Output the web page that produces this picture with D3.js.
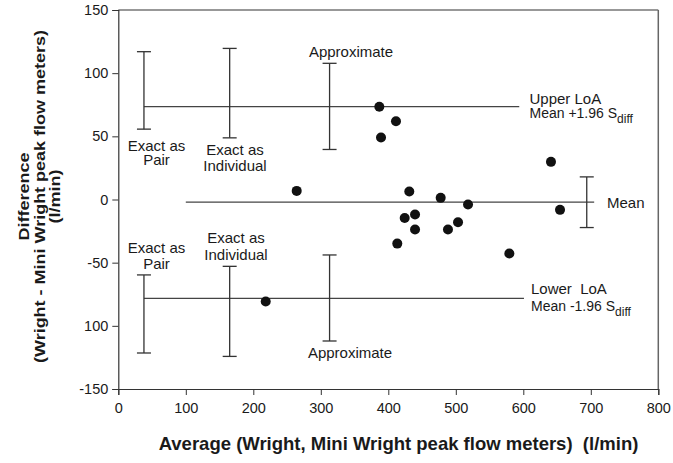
<!DOCTYPE html>
<html><head><meta charset="utf-8">
<script src="https://cdn.jsdelivr.net/npm/d3@7"></script>
<style>
body{margin:0;background:#fff;}
text{font-family:"Liberation Sans",Arial,sans-serif;fill:#1a1a1a;}
</style></head>
<body><svg id="c" width="673" height="463"></svg>
<script>
// Data
const avgVals  = [264.3, 218.4, 386.7, 411.4, 389.2, 431.1, 477.6, 518.1, 439.6, 424.3, 439.6, 488.4, 503.3, 413.3, 579.3, 641.0, 654.4];
const diffVals = [6.8, -80.8, 73.4, 62.0, 49.1, 6.3, 1.3, -4.0, -11.9, -14.6, -23.8, -23.8, -18.0, -34.9, -42.8, 29.8, -8.2];
const meanDiff = -2.1, upperLoA = 73.5, lowerLoA = -78.2;
const meanLineX = [100, 705], upperLineX = [38, 594], lowerLineX = [38, 601];
const meanCiX = 694, meanCi = [-22.2, 17.9];
const ciX = [38, 165, 313];
const upperCiLow = [55.7, 48.8, 39.6], upperCiHigh = [117, 119.6, 107.8];
const lowerCiLow = [-121.5, -124.2, -112], lowerCiHigh = [-59.7, -52.9, -43.9];
const xTicks = [0,100,200,300,400,500,600,700,800];
const yTicks = [-150,-100,-50,0,50,100,150];
const yTickLabels = ["-150","100","-50","0","50","100","150"];

const svg = d3.select("#c");
const x = d3.scaleLinear().domain([0,800]).range([118.3,658.3]);
const y = d3.scaleLinear().domain([-150,150]).range([389,10]);
const axisCol = "#333", lineCol = "#444";

// frame top/right
svg.append("line").attr("x1",x(0)).attr("x2",x(800)).attr("y1",y(150)).attr("y2",y(150)).attr("stroke",axisCol).attr("stroke-width",1.2);
svg.append("line").attr("x1",x(800)).attr("x2",x(800)).attr("y1",y(150)).attr("y2",y(-150)).attr("stroke","#666").attr("stroke-width",1.5);

// axes
const xa = svg.append("g").attr("transform",`translate(0,${y(-150)})`)
  .call(d3.axisBottom(x).tickValues(xTicks).tickSize(6).tickPadding(8).tickFormat(d3.format("d")));
const ya = svg.append("g").attr("transform",`translate(${x(0)},0)`)
  .call(d3.axisLeft(y).tickValues(yTicks).tickSize(6).tickPadding(4).tickFormat((d,i)=>yTickLabels[i]));
[xa,ya].forEach(g=>{
  g.select(".domain").attr("stroke",axisCol).attr("stroke-width",1.2);
  g.selectAll(".tick line").attr("stroke",axisCol);
  g.selectAll("text").attr("font-size",14.5).attr("font-family","Liberation Sans, Arial, sans-serif").attr("fill","#222");
});

// horizontal lines
function hline(x0,x1,yv){
  svg.append("line").attr("x1",x(x0)).attr("x2",x(x1)).attr("y1",y(yv)).attr("y2",y(yv)).attr("stroke",lineCol).attr("stroke-width",1.3);
}
hline(upperLineX[0],upperLineX[1],upperLoA);
hline(lowerLineX[0],lowerLineX[1],lowerLoA);
hline(meanLineX[0],meanLineX[1],meanDiff);

function ebar(xv,lo,hi){
  const g = svg.append("g").attr("stroke","#333").attr("stroke-width",1.3);
  g.append("line").attr("x1",x(xv)).attr("x2",x(xv)).attr("y1",y(lo)).attr("y2",y(hi));
  g.append("line").attr("x1",x(xv)-7).attr("x2",x(xv)+7).attr("y1",y(lo)).attr("y2",y(lo));
  g.append("line").attr("x1",x(xv)-7).attr("x2",x(xv)+7).attr("y1",y(hi)).attr("y2",y(hi));
}
ciX.forEach((cx,i)=>{ ebar(cx,upperCiLow[i],upperCiHigh[i]); ebar(cx,lowerCiLow[i],lowerCiHigh[i]); });
ebar(meanCiX,meanCi[0],meanCi[1]);

// points
svg.append("g").selectAll("circle").data(avgVals).join("circle")
  .attr("cx",d=>x(d)).attr("cy",(d,i)=>y(diffVals[i])).attr("r",5).attr("fill","#111");

// multi-line labels as single text elements (y = baselines)
function lab(lines,px,ys,size,anchor){
  const t = svg.append("text").attr("font-size",size).attr("text-anchor",anchor||"middle");
  lines.forEach((s,i)=>{
    t.append("tspan").attr("x",px).attr("y",ys[i]).text(s);
  });
  return t;
}
lab(["Exact as","Pair"],156.5,[150.5,164.5],15);
lab(["Exact as","Individual"],235,[155,171],15);
lab(["Approximate"],351,[57],15);
lab(["Exact as","Pair"],156.5,[252.5,268.5],15);
lab(["Exact as","Individual"],236,[242.5,259.5],15);
lab(["Approximate"],350,[358],15);
lab(["Mean"],607,[207.5],15,"start");

function loaLabel(title,sub,px,y1,y2){
  const t = svg.append("text").attr("text-anchor","start").style("white-space","pre");
  t.append("tspan").attr("x",px).attr("y",y1).attr("font-size",15).text(title);
  t.append("tspan").attr("x",px).attr("y",y2).attr("font-size",14).text(sub);
  t.append("tspan").attr("font-size",12).attr("y",y2+5).text("diff");
}
loaLabel("Upper LoA","Mean +1.96 S",529.5,104,118);
loaLabel("Lower  LoA","Mean -1.96 S",531,294,310.5);

// axis titles
svg.append("text").attr("x",398.5).attr("y",443).attr("text-anchor","middle").attr("dominant-baseline","central")
  .attr("font-size",18.5).attr("font-weight","bold").style("white-space","pre")
  .text("Average (Wright, Mini Wright peak flow meters)  (l/min)");
const yt = svg.append("text").attr("transform","translate(0,196.5) rotate(-90) scale(1,0.85)")
  .attr("text-anchor","middle").attr("font-size",18).attr("font-weight","bold");
["Difference","(Wright - Mini Wright peak flow meters)","(l/min)"].forEach((s,i)=>{
  yt.append("tspan").attr("x",0).attr("y",[24,39.5,55][i]/0.85).attr("dominant-baseline","central").text(s);
});
</script></body></html>
